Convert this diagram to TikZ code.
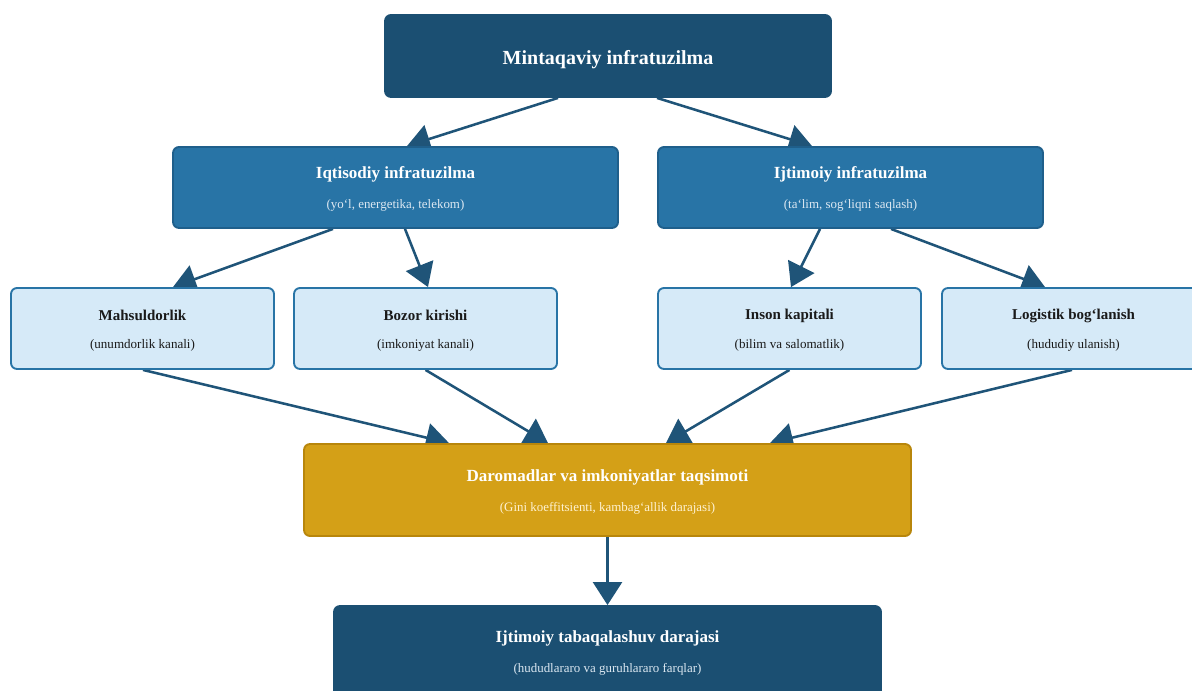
\documentclass[tikz,border=0pt]{standalone}
\usepackage{fontspec}
\setmainfont{Liberation Serif}
\usetikzlibrary{arrows.meta,calc}
\definecolor{navy}{HTML}{1B4F72}
\definecolor{midblue}{HTML}{2874A6}
\definecolor{midborder}{HTML}{1F5F8B}
\definecolor{lightblue}{HTML}{D6EAF8}
\definecolor{gold}{HTML}{D4A017}
\definecolor{goldborder}{HTML}{B8860B}
\definecolor{arrowc}{HTML}{1F5478}
\definecolor{subwhite}{HTML}{DCE8F2}
\definecolor{subgold}{HTML}{FFF2D2}
\definecolor{darktext}{HTML}{1A1A1A}
\pgfdeclarelayer{bg}
\pgfsetlayers{bg,main}
\tikzset{
  box/.style={rectangle, rounded corners=4.5pt, line width=1.4pt, inner sep=0pt},
  topbox/.style={box, fill=navy, draw=navy, minimum height=61.5pt},
  midbox/.style={box, fill=midblue, draw=midborder, minimum height=60.75pt},
  leafbox/.style={box, fill=lightblue, draw=midblue, minimum width=197.25pt, minimum height=60.75pt},
  goldbox/.style={box, fill=gold, draw=goldborder, minimum height=69pt},
  bigtitle/.style={font=\bfseries\fontsize{15}{18}\selectfont, text=white, inner sep=0pt},
  midtitle/.style={font=\bfseries\fontsize{12.75}{15}\selectfont, text=white, inner sep=0pt},
  midsub/.style={font=\fontsize{9.7}{11}\selectfont, text=subwhite, inner sep=0pt},
  leaftitle/.style={font=\bfseries\fontsize{11.25}{13}\selectfont, text=darktext, inner sep=0pt},
  leafsub/.style={font=\fontsize{9.8}{11}\selectfont, text=darktext, inner sep=0pt},
  goldsub/.style={font=\fontsize{9.7}{11}\selectfont, text=subgold, inner sep=0pt},
  conn/.style={draw=arrowc, line width=1.9pt, -{Triangle[length=17.25pt,width=21.75pt]}}
}
\begin{document}
\begin{tikzpicture}[x=0.75pt,y=-0.75pt]
\begin{pgfonlayer}{bg}
\fill[white] (0,0) rectangle (1192,691);
\end{pgfonlayer}
\useasboundingbox (0,0) rectangle (1192,691);
% boxes
\node[topbox, minimum width=334.5pt] (top) at (608,56) {};
\node[midbox, minimum width=333.75pt] (iq) at (395.5,187.5) {};
\node[midbox, minimum width=288.75pt] (ij) at (850.5,187.5) {};
\node[leafbox] (mah) at (142.5,328.5) {};
\node[leafbox] (boz) at (425.5,328.5) {};
\node[leafbox] (ins) at (789.5,328.5) {};
\node[leafbox] (log) at (1073.5,328.5) {};
\node[goldbox, minimum width=455.25pt] (dar) at (607.5,490) {};
\node[topbox, minimum width=410.25pt, minimum height=68.25pt] (bot) at (607.5,651.5) {};
% texts
\node[bigtitle] (topT) at (608,59.5) {Mintaqaviy infratuzilma};
\node[midtitle] (iqT) at (395.5,174) {Iqtisodiy infratuzilma};
\node[midsub] (iqS) at (395.5,205) {(yo‘l, energetika, telekom)};
\node[midtitle] (ijT) at (850.5,174) {Ijtimoiy infratuzilma};
\node[midsub] (ijS) at (850.5,205) {(ta‘lim, sog‘liqni saqlash)};
\node[leaftitle] (mahT) at (142.5,315.5) {Mahsuldorlik};
\node[leafsub] (mahS) at (142.5,345) {(unumdorlik kanali)};
\node[leaftitle] (bozT) at (425.5,315.5) {Bozor kirishi};
\node[leafsub] (bozS) at (425.5,345) {(imkoniyat kanali)};
\node[leaftitle] (insT) at (789.5,315.5) {Inson kapitali};
\node[leafsub] (insS) at (789.5,345) {(bilim va salomatlik)};
\node[leaftitle] (logT) at (1073.5,315.5) {Logistik bog‘lanish};
\node[leafsub] (logS) at (1073.5,345) {(hududiy ulanish)};
\node[midtitle] (darT) at (607.5,477) {Daromadlar va imkoniyatlar taqsimoti};
\node[goldsub] (darS) at (607.5,508) {(Gini koeffitsienti, kambag‘allik darajasi)};
\node[midtitle] (botT) at (607.5,638) {Ijtimoiy tabaqalashuv darajasi};
\node[midsub] (botS) at (607.5,669) {(hududlararo va guruhlararo farqlar)};
% connectors (behind the boxes)
\begin{pgfonlayer}{bg}
\draw[conn] ($(top.south)+(-50,0)$) -- ($(iq.north)+(11.5,0)$);
\draw[conn] ($(top.south)+(49,0)$) -- ($(ij.north)+(-38.5,0)$);
\draw[conn] ($(iq.south)+(-62.5,0)$) -- ($(mah.north)+(30.5,0)$);
\draw[conn] ($(iq.south)+(9.5,0)$) -- ($(boz.north)+(2.5,0)$);
\draw[conn] ($(ij.south)+(-30.5,0)$) -- ($(ins.north)+(1.5,0)$);
\draw[conn] ($(ij.south)+(40.5,0)$) -- ($(log.north)+(-28.5,0)$);
\draw[conn] ($(mah.south)+(0.5,0)$) -- ($(dar.north)+(-158.5,0)$);
\draw[conn] (boz.south) -- ($(dar.north)+(-59.5,0)$);
\draw[conn] (ins.south) -- ($(dar.north)+(58.5,0)$);
\draw[conn] ($(log.south)+(-1.5,0)$) -- ($(dar.north)+(162.5,0)$);
\draw[conn] (dar.south) -- (bot.north);
\end{pgfonlayer}
\end{tikzpicture}
\end{document}
